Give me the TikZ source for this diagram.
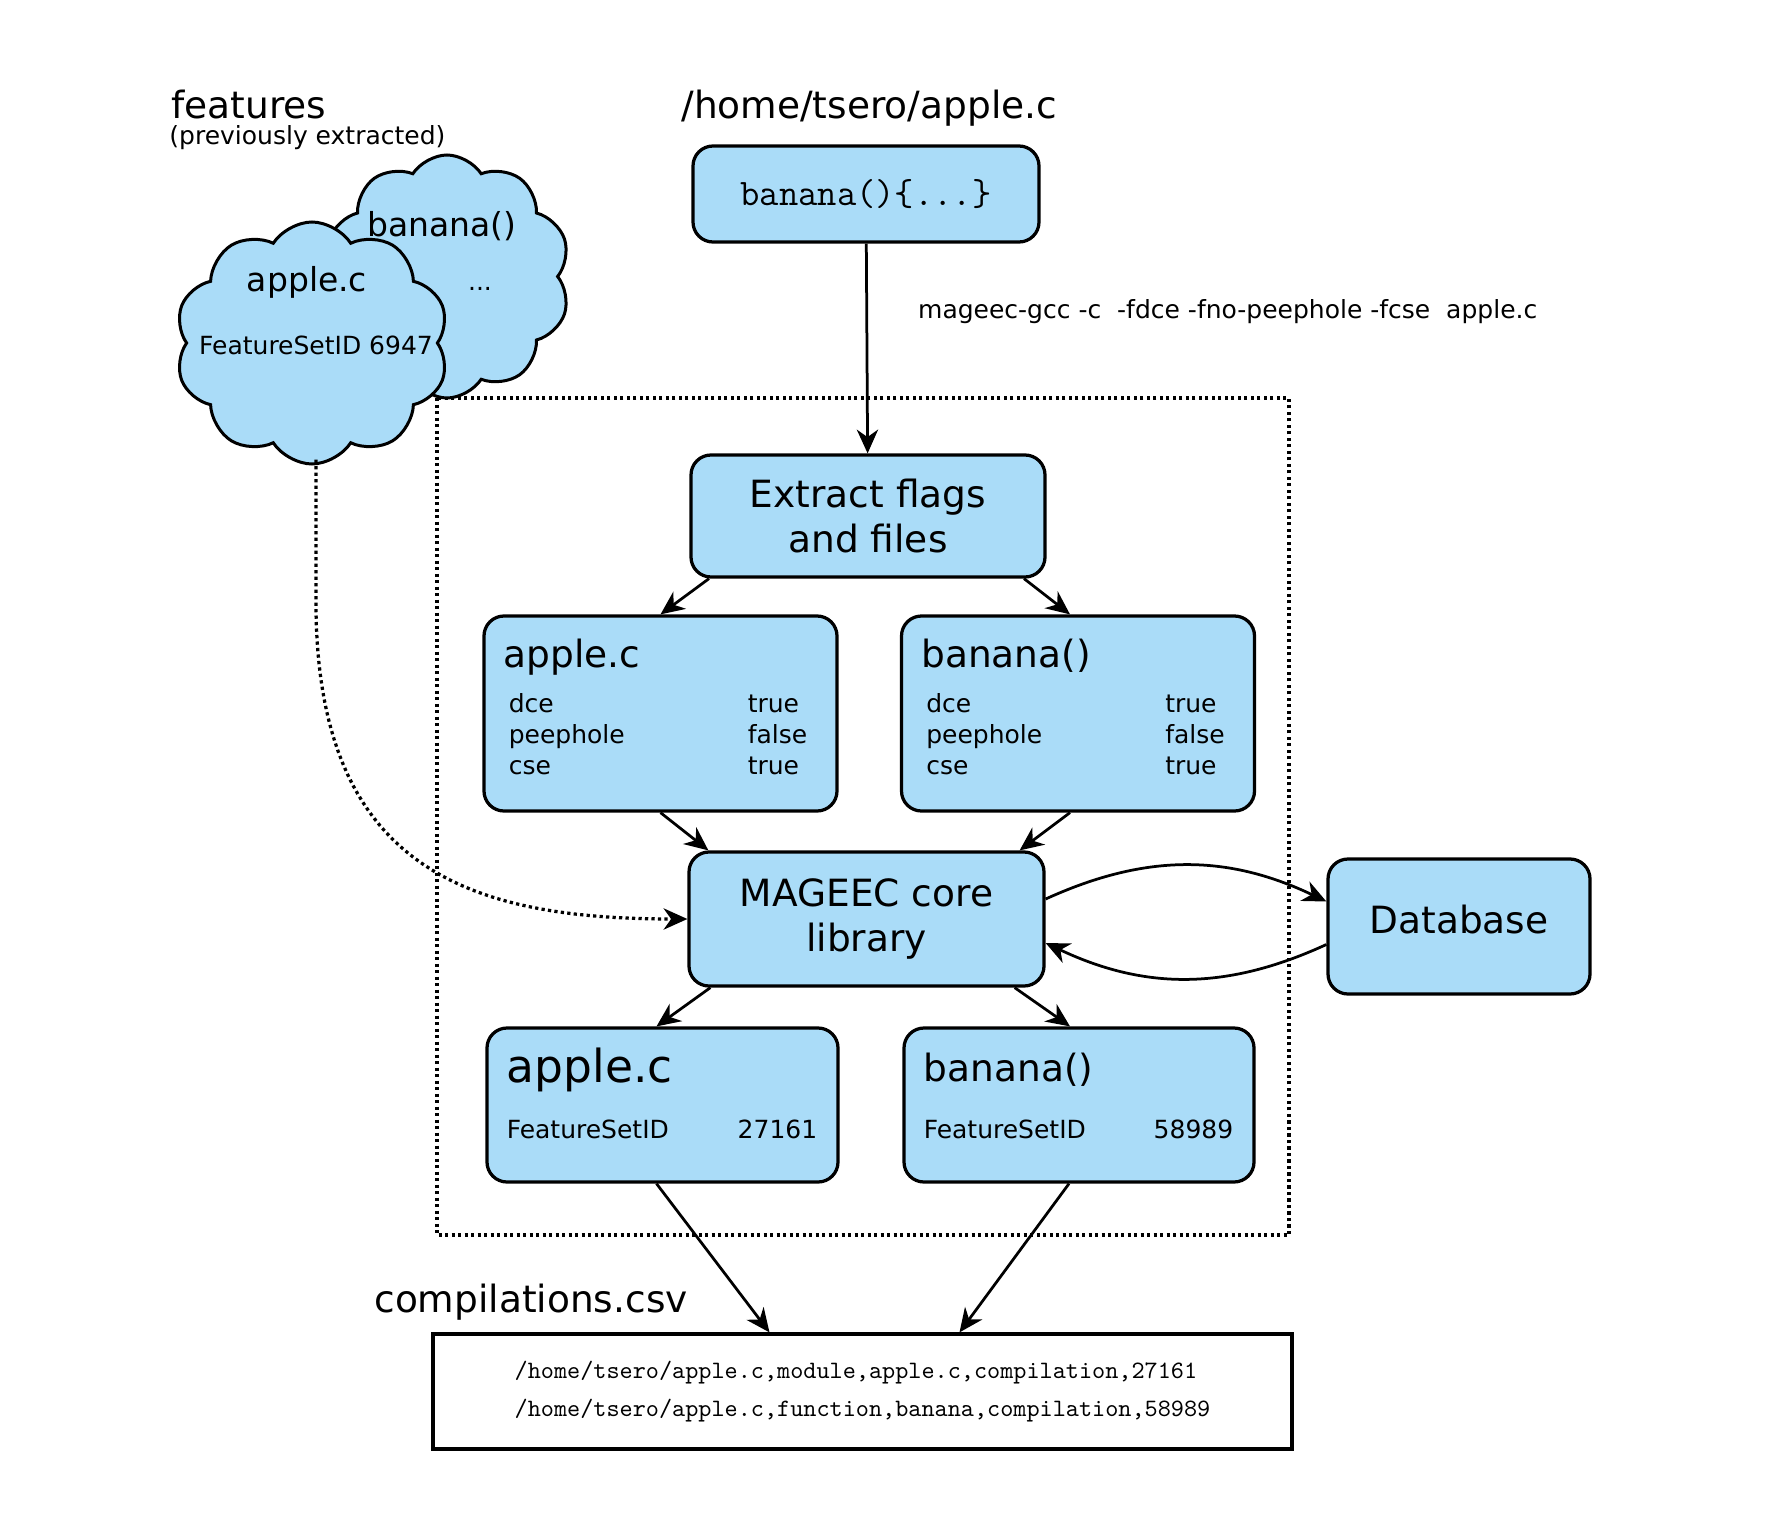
\documentclass[tikz,border=0pt]{standalone}
\usepackage{fontspec}
\setmainfont{DejaVu Sans}
\usetikzlibrary{shapes.symbols,arrows.meta}

\definecolor{boxblue}{RGB}{170,220,248}

\begin{document}
\begin{tikzpicture}[
            x=0.4pt,y=-0.4pt,
            >={Stealth[length=9.5pt,width=8.5pt,inset=3pt]},
            line width=1.1pt,
            box/.style={draw,fill=boxblue,rounded corners=8pt,line width=1.3pt,inner sep=0pt},
            puff/.style={draw,fill=boxblue,cloud,cloud puffs=10,cloud puff arc=115,line width=1.2pt,inner sep=0pt},
            big/.style={font=\fontsize{15}{18}\selectfont},
            mid/.style={font=\fontsize{13.2}{16}\selectfont},
            small/.style={font=\fontsize{10}{12.4}\selectfont},
            txt/.style={inner sep=0pt,anchor=base west},
            dots/.style={line width=1.3pt,dash pattern=on 1.3pt off 1.3pt}
        ]
        \useasboundingbox (0,0) rectangle (1772,1539);
        \draw[dots] (437,398) rectangle (1289,1235);
        \node[puff,minimum width=98.8pt,minimum height=97.2pt] (cb) at (447,276.5) {};
        \node[puff,minimum width=109.6pt,minimum height=96.8pt] (ca) at (312,343) {};
        \node[box,minimum width=138.4pt,minimum height=38.4pt,font=\fontsize{15}{18}\selectfont\ttfamily] (src) at (866,194) {banana()\{...\}};
        \node[box,minimum width=141.6pt,minimum height=48.8pt,big,align=center] (ext) at (868,516) {Extract flags\\and files};
        \node[box,minimum width=141.2pt,minimum height=78pt] (fa) at (660.5,713.5) {};
        \node[box,minimum width=141.2pt,minimum height=78pt] (fb) at (1078,713.5) {};
        \node[box,minimum width=142pt,minimum height=53.6pt,big,align=center] (core) at (866.5,919) {MAGEEC core\\library};
        \node[box,minimum width=104.8pt,minimum height=54pt,big,text depth=5.6pt] (db) at (1459,926.5) {Database};
        \node[box,minimum width=140.4pt,minimum height=61.6pt] (ia) at (662.5,1105) {};
        \node[box,minimum width=140pt,minimum height=61.6pt] (ib) at (1079,1105) {};
        \node[draw,line width=1.3pt,minimum width=343.6pt,minimum height=46pt,align=left,
            font=\fontsize{10}{15.2}\selectfont\ttfamily] (csv) at (862.5,1391.5)
            {/home/tsero/apple.c,module,apple.c,compilation,27161\\/home/tsero/apple.c,function,banana,compilation,58989};

        % titles
        \node[big,txt] (feat) at (170,118) {features};
        \node[small,txt] (prev) at (168,144) {(previously extracted)};
        \node[big,txt] (file) at (680,118) {/home/tsero/apple.c};
        \node[big,txt] (out) at (373,1312) {compilations.csv};

        % clouds
        \node[mid,inner sep=0pt,anchor=base] (cb-t) at (442,236) {banana()};
        \node[small,inner sep=0pt,anchor=base] (cb-d) at (480,290) {...};
        \node[mid,inner sep=0pt,anchor=base] (ca-t) at (307,291) {apple.c};
        \node[small,inner sep=0pt,anchor=base] (ca-f) at (316,354) {FeatureSetID 6947};

        % flags per unit
        \foreach \b/\t in {fa/apple.c,fb/banana()} {
            \node[big,txt] (\b-t) at ([shift={(20,53)}]\b.north west) {\t};
            \foreach \k/\f/\v in {0/dce/true,1/peephole/false,2/cse/true} {
                \node[small,txt] (\b-\f) at ([shift={(25,98+31*\k)}]\b.north west) {\f};
                \node[small,txt] (\b-\f-v) at ([shift={(264,98+31*\k)}]\b.north west) {\v};
            }
        }

        % feature set ids
        \node[txt,font=\fontsize{18.2}{22}\selectfont] (ia-t) at ([shift={(20,56)}]ia.north west) {apple.c};
        \node[big,txt] (ib-t) at ([shift={(20,55)}]ib.north west) {banana()};
        \foreach \b/\n in {ia/27161,ib/58989} {
            \node[small,txt] (\b-f) at ([shift={(20,112)}]\b.north west) {FeatureSetID};
            \node[small,txt,anchor=base east] (\b-n) at ([shift={(-21,112)}]\b.north east) {\n};
        }

        \path[->] (src) edge node[small,txt,pos=0.357,xshift=20pt] (cmd) {mageec-gcc -c\ \ -fdce -fno-peephole -fcse\ \ apple.c} (ext);
        \draw[->] ([shift={(-159,0)}]ext.south) -- (fa.north);
        \draw[->] ([shift={(156,0)}]ext.south) -- ([shift={(-8,0)}]fb.north);
        \draw[->] (fa.south) -- ([shift={(21,0)}]core.north west);
        \draw[->] ([shift={(-8,0)}]fb.south) -- ([shift={(-26,0)}]core.north east);
        \draw[->] ([shift={(23,0)}]core.south west) -- ([shift={(-6,0)}]ia.north);
        \draw[->] ([shift={(-31,0)}]core.south east) -- ([shift={(-9,0)}]ib.north);
        \draw[->] ([shift={(-6,0)}]ia.south) -- ([shift={(-93,0)}]csv.north);
        \draw[->] ([shift={(-10,0)}]ib.south) -- ([shift={(97,0)}]csv.north);
        \draw[->] ([shift={(0,-20)}]core.east) to[bend left=25] ([shift={(0,-25)}]db.west);
        \draw[->] ([shift={(0,18)}]db.west) to[bend left=25] ([shift={(0,24)}]core.east);
        \draw[->,dots] ([shift={(4,-6)}]ca.south) -- ++(0,150) .. controls +(3,260) and +(-217,0) .. (core.west);
\end{tikzpicture}
\end{document}
